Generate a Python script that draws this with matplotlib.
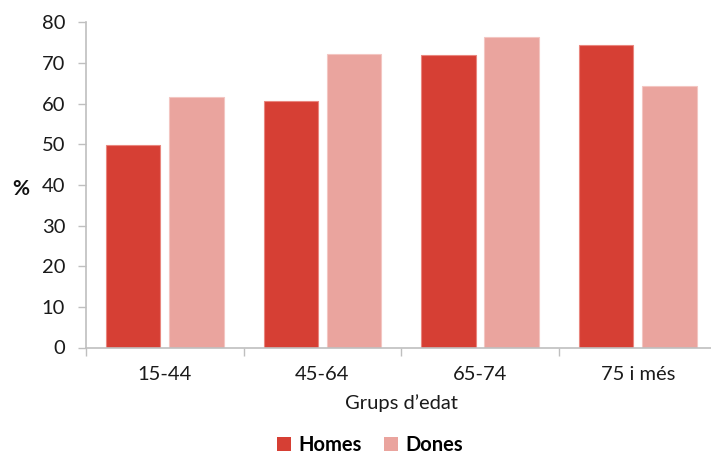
import matplotlib
matplotlib.use("Agg")
import matplotlib.pyplot as plt
import numpy as np
from matplotlib.patches import Patch

plt.rcParams['font.family'] = ['Lato', 'DejaVu Sans']

# Dades
grups = ["15-44", "45-64", "65-74", "75 i més"]
homes = [49.7, 60.7, 71.9, 74.3]
dones = [61.7, 72.2, 76.5, 64.3]
series_labels = ["Homes", "Dones"]
yticks = [0, 10, 20, 30, 40, 50, 60, 70, 80]

col_homes = "#D63F34"
col_dones = "#EAA49E"
axis_grey = "#BFBFBF"
txt = "#1A1A1A"
fs = 14.5

fig = plt.figure(figsize=(7.11, 4.57), dpi=100)
ax = fig.add_axes([86 / 711, 1 - 347.5 / 457, 630.5 / 711, (347.5 - 22.3) / 457])

x = np.arange(len(grups))
w = 0.346
gap = 0.055
ax.bar(x - (w + gap) / 2, homes, width=w, color=col_homes,
       edgecolor="#E9867E", linewidth=0.8)
ax.bar(x + (w + gap) / 2, dones, width=w, color=col_dones,
       edgecolor="#F3C6C2", linewidth=0.8)

ax.set_xlim(-0.5, len(grups) - 0.5)
ax.set_ylim(0, 80)
ax.set_yticks(yticks)
ax.set_yticklabels([str(v) for v in yticks])

# Eix X: marques als límits de cada categoria, etiquetes al centre
ax.set_xticks(np.arange(len(grups) + 1) - 0.5)
ax.set_xticklabels([])
ax.set_xticks(x, minor=True)
ax.set_xticklabels(grups, minor=True)
ax.tick_params(axis="x", which="minor", length=0, pad=13, labelsize=fs, colors=txt)
ax.tick_params(axis="x", which="major", length=6, width=1, color=axis_grey, direction="out")
ax.tick_params(axis="y", length=6, width=1, color=axis_grey, direction="out",
               pad=9, labelsize=fs, labelcolor=txt)

for s in ["top", "right"]:
    ax.spines[s].set_visible(False)
for s in ["left", "bottom"]:
    ax.spines[s].set_color(axis_grey)
    ax.spines[s].set_linewidth(1.2)

fig.text(21 / 711, 1 - 189 / 457, "%", fontsize=15, fontweight="bold",
         ha="center", va="center", color="#111111")
fig.text(401 / 711, 1 - 403 / 457, "Grups d\u2019edat", fontsize=fs,
         ha="center", va="center", color=txt)

handles = [Patch(facecolor=col_homes, edgecolor="none"),
           Patch(facecolor=col_dones, edgecolor="none")]
fig.legend(handles, series_labels, loc="center", bbox_to_anchor=(370 / 711, 1 - 445 / 457),
           ncol=2, frameon=False, handlelength=0.7, handleheight=0.7,
           handletextpad=0.35, columnspacing=1.1, borderpad=0.2,
           prop={"weight": "bold", "size": fs})

fig.savefig("out.png", dpi=100)
